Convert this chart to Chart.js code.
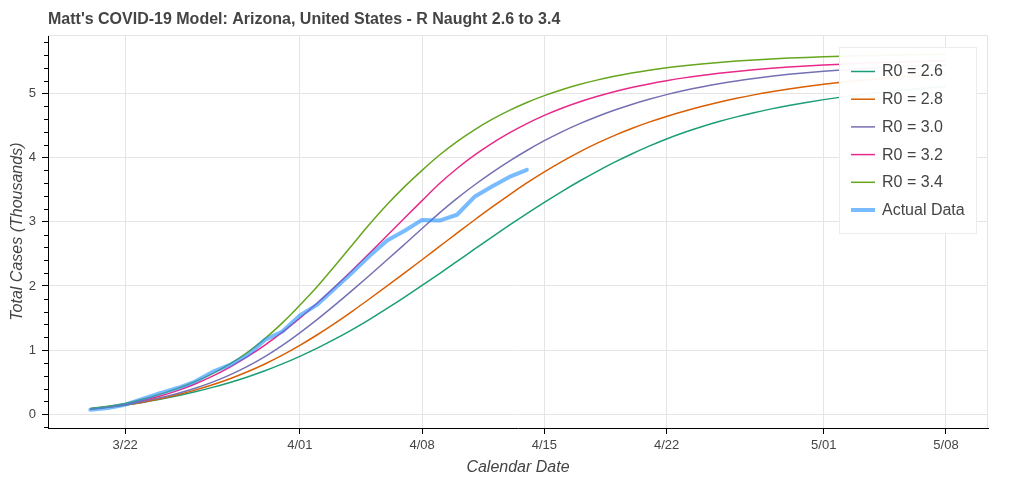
<!DOCTYPE html>
<html>
<head>
<meta charset="utf-8">
<script src="https://cdn.jsdelivr.net/npm/chart.js@4.4.0/dist/chart.umd.min.js"></script>
<style>
html,body{margin:0;padding:0;background:#fff;overflow:hidden}
canvas{display:block}
</style>
</head>
<body>
<canvas id="c" width="1024" height="482"></canvas>
<script>
// ---------------- DATA ----------------
const chartTitle = "Matt's COVID-19 Model: Arizona, United States - R Naught 2.6 to 3.4";
const xAxisTitle = 'Calendar Date';
const yAxisTitle = 'Total Cases (Thousands)';

const dates = [
  '3/20','3/21','3/22','3/23','3/24','3/25','3/26','3/27','3/28','3/29','3/30','3/31',
  '4/01','4/02','4/03','4/04','4/05','4/06','4/07','4/08','4/09','4/10','4/11','4/12','4/13','4/14','4/15',
  '4/16','4/17','4/18','4/19','4/20','4/21','4/22','4/23','4/24','4/25','4/26','4/27','4/28','4/29','4/30',
  '5/01','5/02','5/03','5/04','5/05','5/06','5/07','5/08'
];

const seriesLabels = ['R0 = 2.6','R0 = 2.8','R0 = 3.0','R0 = 3.2','R0 = 3.4'];
const actualLabel = 'Actual Data';

// model totals (thousands), 3/20 .. 5/08
const r26 = [0.080,0.110,0.145,0.186,0.234,0.289,0.351,0.420,0.497,0.583,0.679,0.786,0.904,1.032,1.171,1.321,1.481,1.650,1.826,2.008,
             2.194,2.383,2.573,2.762,2.948,3.129,3.304,3.472,3.632,3.783,3.925,4.057,4.179,4.291,4.391,4.481,4.562,4.635,4.701,4.760,
             4.813,4.861,4.904,4.943,4.978,5.009,5.037,5.062,5.085,5.105];
const r28 = [0.080,0.110,0.146,0.190,0.243,0.305,0.377,0.460,0.555,0.663,0.785,0.922,1.074,1.240,1.418,1.606,1.801,2.001,2.204,2.409,
             2.616,2.823,3.028,3.228,3.421,3.605,3.778,3.939,4.087,4.222,4.344,4.454,4.553,4.642,4.723,4.797,4.864,4.924,4.978,5.026,
             5.069,5.108,5.143,5.174,5.202,5.227,5.249,5.269,5.287,5.303];
const r30 = [0.085,0.115,0.153,0.200,0.257,0.325,0.406,0.502,0.615,0.747,0.900,1.075,1.270,1.480,1.702,1.932,2.168,2.408,2.651,2.895,
             3.139,3.365,3.574,3.767,3.946,4.111,4.264,4.402,4.526,4.638,4.738,4.828,4.909,4.982,5.046,5.102,5.152,5.196,5.234,5.268,
             5.298,5.324,5.347,5.367,5.385,5.401,5.415,5.427,5.438,5.448];
const r32 = [0.088,0.120,0.162,0.216,0.285,0.370,0.473,0.595,0.737,0.898,1.079,1.280,1.500,1.735,1.985,2.246,2.514,2.786,3.059,3.330,
             3.596,3.831,4.039,4.223,4.386,4.531,4.659,4.770,4.867,4.952,5.027,5.092,5.149,5.199,5.243,5.281,5.315,5.344,5.370,5.392,
             5.412,5.429,5.444,5.457,5.469,5.479,5.488,5.496,5.503,5.509];
const r34 = [0.090,0.125,0.170,0.235,0.315,0.405,0.510,0.635,0.785,0.965,1.180,1.425,1.700,1.991,2.313,2.640,2.965,3.270,3.548,3.802,
             4.041,4.250,4.434,4.595,4.736,4.859,4.966,5.059,5.139,5.208,5.267,5.318,5.362,5.400,5.432,5.460,5.484,5.505,5.523,5.538,
             5.551,5.562,5.572,5.580,5.587,5.593,5.598,5.603,5.607,5.610];

// actual cases (thousands), 3/20 .. 4/14
const actual = [0.07,0.10,0.15,0.24,0.33,0.41,0.51,0.66,0.77,0.92,1.16,1.29,1.54,1.71,1.96,2.21,2.47,2.71,2.86,3.03,
                3.02,3.11,3.39,3.55,3.70,3.81];

const xTickLabels = ['3/22','4/01','4/08','4/15','4/22','5/01','5/08'];

// ---------------- STYLE ----------------
const modelColors = ['#1b9e77','#d95f02','#7570b3','#e7298a','#66a61e'];
const actualColor = 'rgba(30,144,255,0.6)';
const textColor = '#444444';
const gridColor = '#e5e5e5';
const fontFamily = "'Liberation Sans', Arial, Helvetica, sans-serif";
const yMinorStep = 0.2;

// day offset relative to 3/22/2020
function dayOf(s) {
  const [m, d] = s.split('/').map(Number);
  return (Date.UTC(2020, m - 1, d) - Date.UTC(2020, 2, 22)) / 86400000;
}
const tickMap = {};
xTickLabels.forEach(l => { tickMap[dayOf(l)] = l; });

const modelSeries = [r26, r28, r30, r32, r34];
const datasets = modelSeries.map((vals, i) => ({
  label: seriesLabels[i],
  data: vals.map((v, j) => ({x: dayOf(dates[j]), y: v})),
  borderColor: modelColors[i],
  backgroundColor: modelColors[i],
  borderWidth: 1.5,
  pointRadius: 0,
  cubicInterpolationMode: 'monotone',
  fill: false,
  order: 5 - i
}));
datasets.push({
  label: actualLabel,
  data: actual.map((v, j) => ({x: dayOf(dates[j]), y: v})),
  borderColor: actualColor,
  backgroundColor: actualColor,
  borderWidth: 4,
  pointRadius: 0,
  tension: 0,
  fill: false,
  borderJoinStyle: 'round',
  borderCapStyle: 'round',
  order: 0
});

Chart.defaults.font.family = fontFamily;
Chart.defaults.color = textColor;

const decor = {
  id: 'decor',
  beforeDatasetsDraw(chart) {
    const {ctx, chartArea: a} = chart;
    ctx.save();
    ctx.strokeStyle = gridColor;
    ctx.lineWidth = 1;
    ctx.beginPath();
    ctx.moveTo(a.left, Math.round(a.top) + 0.5);
    ctx.lineTo(a.right, Math.round(a.top) + 0.5);
    ctx.moveTo(Math.round(a.right) - 0.5, a.top);
    ctx.lineTo(Math.round(a.right) - 0.5, a.bottom);
    ctx.stroke();
    ctx.restore();
  },
  afterDraw(chart) {
    const {ctx, chartArea: a} = chart;
    const ys = chart.scales.y;
    ctx.save();
    // minor ticks on y axis
    ctx.strokeStyle = '#000';
    ctx.lineWidth = 1;
    ctx.beginPath();
    const x0 = Math.round(a.left);
    for (let k = Math.ceil(ys.min / yMinorStep); k * yMinorStep <= ys.max + 1e-9; k++) {
      if (k % 5 === 0) continue;
      const py = Math.round(ys.getPixelForValue(k * yMinorStep)) + 0.5;
      ctx.moveTo(x0 - 4, py);
      ctx.lineTo(x0, py);
    }
    ctx.stroke();

    // legend
    const w = 138, h = 187;
    const lx = Math.round(a.right) - 11 - w;
    const ly = Math.round(a.top) + 12;
    ctx.fillStyle = 'rgba(255,255,255,0.95)';
    ctx.fillRect(lx, ly, w, h);
    ctx.strokeStyle = '#ececec';
    ctx.lineWidth = 1;
    ctx.strokeRect(lx + 0.5, ly + 0.5, w - 1, h - 1);
    ctx.font = '16px ' + fontFamily;
    ctx.textBaseline = 'middle';
    ctx.textAlign = 'left';
    chart.data.datasets.forEach((ds, i) => {
      const cy = ly + 24.5 + i * 27.7;
      ctx.strokeStyle = ds.borderColor;
      ctx.lineWidth = ds.borderWidth;
      ctx.lineCap = 'butt';
      ctx.beginPath();
      ctx.moveTo(lx + 12, cy);
      ctx.lineTo(lx + 36, cy);
      ctx.stroke();
      ctx.fillStyle = textColor;
      ctx.fillText(ds.label, lx + 43, cy + 0.5);
    });
    ctx.restore();
  }
};

new Chart(document.getElementById('c'), {
  type: 'line',
  data: {datasets},
  plugins: [decor],
  options: {
    responsive: false,
    animation: false,
    devicePixelRatio: 1,
    layout: {padding: {left: 0, right: 36, top: 0, bottom: 0}},
    plugins: {
      legend: {display: false},
      tooltip: {enabled: false},
      title: {
        display: true,
        text: chartTitle,
        align: 'start',
        fullSize: false,
        color: textColor,
        font: {size: 16, weight: 'bold'},
        padding: {top: 10, bottom: 6}
      }
    },
    scales: {
      x: {
        type: 'linear',
        min: -4.42,
        max: 49.405,
        afterBuildTicks: s => { s.ticks = xTickLabels.map(l => ({value: dayOf(l)})); },
        afterFit: s => { s.height = 54; },
        ticks: {
          autoSkip: false,
          maxRotation: 0,
          color: textColor,
          font: {size: 13},
          padding: 4,
          callback: v => tickMap[v] !== undefined ? tickMap[v] : ''
        },
        grid: {color: gridColor, lineWidth: 1, tickColor: '#000', tickLength: 6},
        border: {color: '#000', width: 1},
        title: {display: true, text: xAxisTitle, color: textColor, font: {size: 16, style: 'italic'}, padding: {top: 0, bottom: 5}}
      },
      y: {
        type: 'linear',
        min: -0.213,
        max: 5.908,
        afterFit: s => { s.width = 48; },
        ticks: {stepSize: 1, includeBounds: false, color: textColor, font: {size: 13}, padding: 6},
        grid: {color: gridColor, lineWidth: 1, tickColor: '#000', tickLength: 6},
        border: {color: '#000', width: 1},
        title: {display: true, text: yAxisTitle, color: textColor, font: {size: 16, style: 'italic'}, padding: {top: 8, bottom: 0}}
      }
    }
  }
});
</script>
</body>
</html>
